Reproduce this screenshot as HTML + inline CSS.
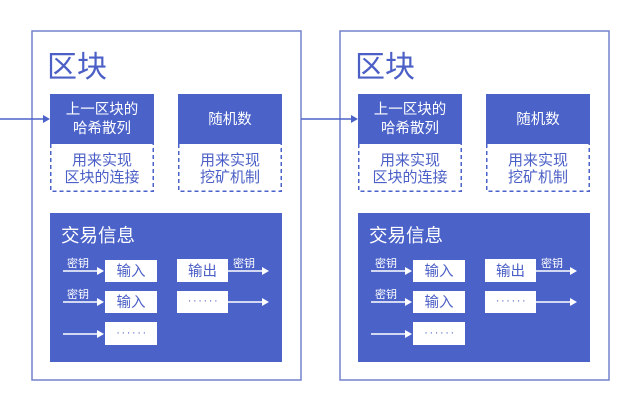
<!DOCTYPE html>
<html><head><meta charset="utf-8">
<style>
html,body{margin:0;padding:0;background:#fff;}
svg{display:block;}
text{font-family:"Liberation Sans","Noto Sans CJK SC",sans-serif;}
</style></head>
<body>
<svg width="640" height="412" viewBox="0 0 640 412" xmlns="http://www.w3.org/2000/svg">
<defs>
  <g id="blk">
    <rect x="32" y="31" width="269" height="349" fill="#fff" stroke="#7282cc" stroke-width="1.5"/>
    <text x="47" y="77" font-size="30" fill="#4b5fc6">区块</text>
    <!-- top boxes -->
    <rect x="50" y="94" width="104" height="50" fill="#4b62c9"/>
    <text x="102" y="114" font-size="14.5" fill="#fff" text-anchor="middle">上一区块的</text>
    <text x="102" y="133" font-size="14.5" fill="#fff" text-anchor="middle">哈希散列</text>
    <path d="M50.75 144 V191.25 H153.25 V144" fill="none" stroke="#4b62c9" stroke-width="1.5" stroke-dasharray="4 3"/>
    <text x="102" y="165" font-size="15" fill="#4b5fc6" text-anchor="middle">用来实现</text>
    <text x="102" y="182" font-size="15" fill="#4b5fc6" text-anchor="middle">区块的连接</text>

    <rect x="178" y="94" width="104" height="50" fill="#4b62c9"/>
    <text x="230" y="124" font-size="14.5" fill="#fff" text-anchor="middle">随机数</text>
    <path d="M178.75 144 V191.25 H281.25 V144" fill="none" stroke="#4b62c9" stroke-width="1.5" stroke-dasharray="4 3"/>
    <text x="230" y="165" font-size="15" fill="#4b5fc6" text-anchor="middle">用来实现</text>
    <text x="230" y="182" font-size="15" fill="#4b5fc6" text-anchor="middle">挖矿机制</text>

    <!-- transaction box -->
    <rect x="50" y="213" width="232" height="149" fill="#4b62c9"/>
    <text x="61" y="242" font-size="18.5" fill="#fff">交易信息</text>

    <!-- inputs -->
    <rect x="105" y="260" width="52" height="22" fill="#fff"/>
    <text x="131" y="276" font-size="14.5" fill="#4b5fc6" text-anchor="middle">输入</text>
    <rect x="105" y="291" width="52" height="22" fill="#fff"/>
    <text x="131" y="307" font-size="14.5" fill="#4b5fc6" text-anchor="middle">输入</text>
    <rect x="105" y="322" width="52" height="23" fill="#fff"/>
    <text x="132" y="336" font-size="11" fill="#4b5fc6" text-anchor="middle" letter-spacing="1.6">······</text>

    <!-- outputs -->
    <rect x="177" y="259" width="51" height="23" fill="#fff"/>
    <text x="202.5" y="276" font-size="14.5" fill="#4b5fc6" text-anchor="middle">输出</text>
    <rect x="177" y="291" width="51" height="22" fill="#fff"/>
    <text x="203.5" y="304" font-size="11" fill="#4b5fc6" text-anchor="middle" letter-spacing="1.6">······</text>

    <!-- arrows -->
    <g stroke="#fff" stroke-width="1.5">
      <line x1="63" y1="271" x2="98" y2="271"/>
      <line x1="63" y1="302" x2="98" y2="302"/>
      <line x1="63" y1="334" x2="98" y2="334"/>
      <line x1="228" y1="271" x2="263" y2="271"/>
      <line x1="228" y1="302" x2="263" y2="302"/>
    </g>
    <g fill="#fff">
      <polygon points="97,267 104,271 97,275"/>
      <polygon points="97,298 104,302 97,306"/>
      <polygon points="97,330 104,334 97,338"/>
      <polygon points="262,267 269,271 262,275"/>
      <polygon points="262,298 269,302 262,306"/>
    </g>
    <text x="67" y="267" font-size="11" fill="#fff">密钥</text>
    <text x="67" y="298" font-size="11" fill="#fff">密钥</text>
    <text x="233" y="267" font-size="11" fill="#fff">密钥</text>
  </g>
</defs>

<use href="#blk"/>
<use href="#blk" transform="translate(308,0)"/>

<!-- connectors -->
<g stroke="#4b62c9" stroke-width="1.5">
  <line x1="0" y1="119" x2="44" y2="119"/>
  <line x1="301" y1="119" x2="352" y2="119"/>
</g>
<g fill="#4b62c9">
  <polygon points="43,115 50,119 43,123"/>
  <polygon points="351,115 358,119 351,123"/>
</g>
</svg>
</body></html>
